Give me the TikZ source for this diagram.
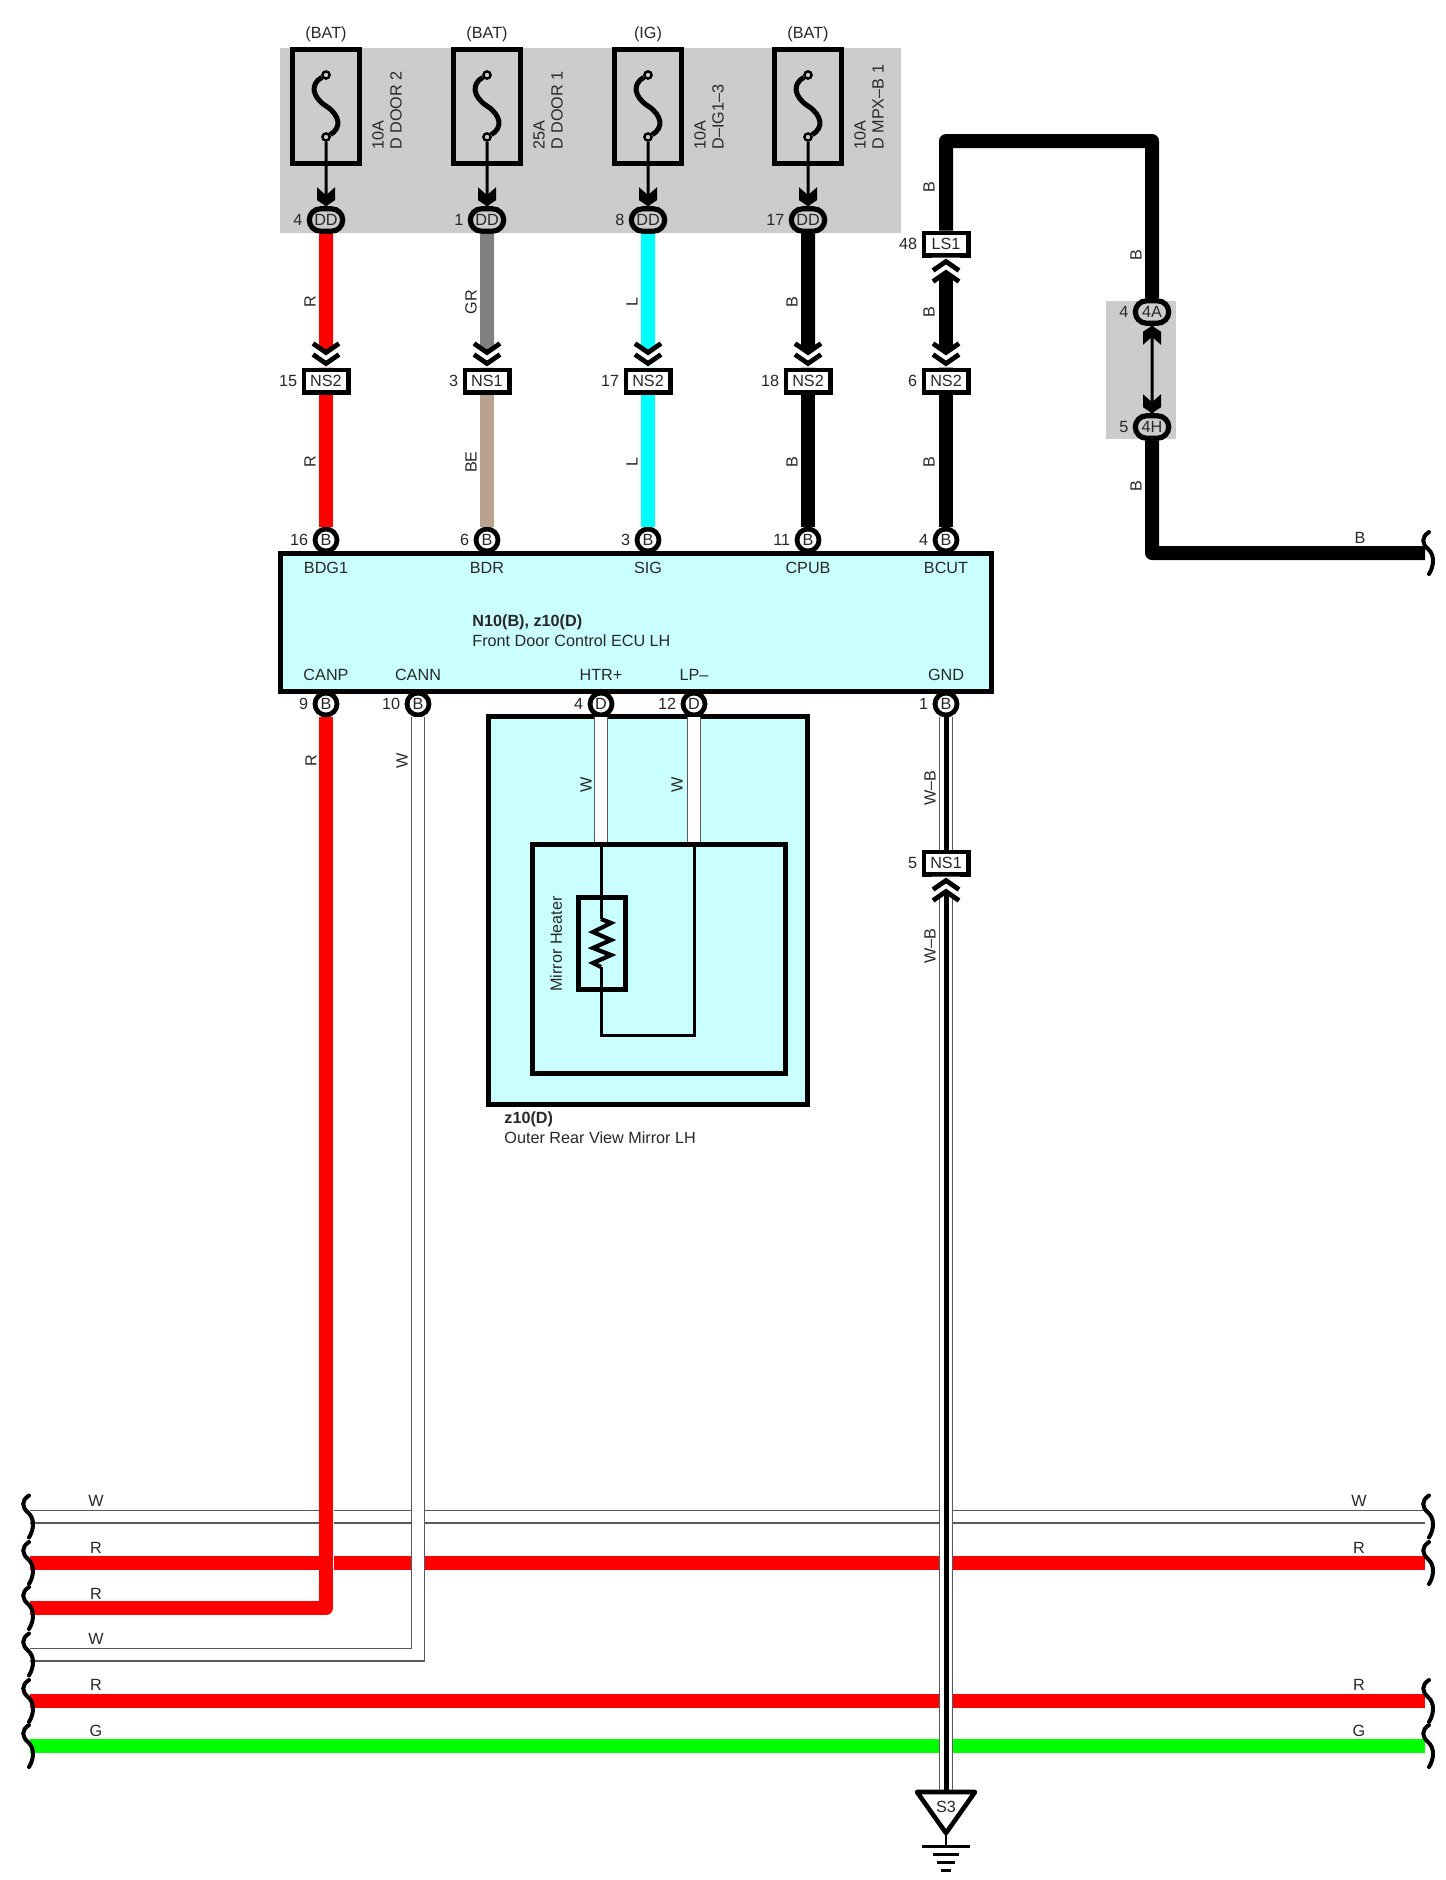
\documentclass[tikz,border=0pt]{standalone}
\usepackage{fontspec}
\setmainfont{Liberation Sans}
\usetikzlibrary{shapes.misc}
\definecolor{wred}{RGB}{255,0,0}
\definecolor{wgray}{RGB}{128,128,128}
\definecolor{wtan}{RGB}{185,163,143}
\definecolor{wcyan}{RGB}{0,255,255}
\definecolor{wgreen}{RGB}{0,255,0}
\definecolor{panel}{RGB}{204,204,204}
\definecolor{ecufill}{RGB}{201,255,255}
\definecolor{ink}{RGB}{40,40,40}
\newcommand\Lbl{\fontsize{8.1}{9}\selectfont}

\begin{document}
\begin{tikzpicture}[x=0.5pt,y=-0.5pt,
every node/.style={font=\Lbl,text=ink,inner sep=0pt},
every label/.style={font=\Lbl,text=ink,inner sep=0pt,xshift=-2pt},
wire/.style={line width=7pt,draw=#1,line join=round},
whitewire/.style={draw=black!65,line width=.7pt,double=white,double distance=5.6pt},
corewire/.style={draw=black,line width=2.5pt},
thinwire/.style={draw=black,line width=1.5pt},
box/.style={rectangle,draw=black,line width=2.5pt},
oval/.style={rounded rectangle,draw=black,line width=2.6pt,fill=panel,
  minimum width=16.7pt,minimum height=11.2pt},
conn/.style={rectangle,draw=black,line width=2.3pt,fill=white,
  minimum width=22.2pt,minimum height=11.2pt},
pinB/.style={circle,draw=black,line width=2.4pt,fill=white,minimum size=11pt},
fusepin/.style={circle,draw=black,line width=1.2pt,fill=panel,minimum size=3.6pt},
wirelabel/.style={rotate=90},
chev/.pic={
  \fill[white] (-14,-24) -- (0,-15) -- (14,-24) -- (14,0) -- (-14,0) -- cycle;
  \draw[line width=2.4pt] (-13,-24) -- (0,-15) -- (13,-24);
  \draw[line width=2.4pt] (-13,-13) -- (0,-4) -- (13,-13);
},
barb/.pic={
  \fill[black] (-9,-19) -- (0,-11) -- (9,-19) -- (9,-6) -- (0,0) -- (-9,-6) -- cycle;
},
wavy/.pic={
  \draw[line width=2pt,line cap=round] (1,-21) .. controls (-7,-16) and (-6,-9) .. (0,-4)
    .. controls (7,2) and (6,13) .. (1,21);
}]

\path[use as bounding box,fill=white] (0,0) rectangle (1446,1880);

% grey panels
\fill[panel] (280,48) rectangle (901,233);
\fill[panel] (1106,301) rectangle (1176,439);

% ecu and mirror
\node (ecu) [box,fill=ecufill,minimum width=355.5pt,minimum height=69pt] at (635.5,622) {};
\node (mirror) [box,fill=ecufill,minimum width=159.5pt,minimum height=194pt] at (647.5,910) {};
\node (heater) [box,minimum width=126.7pt,minimum height=114.5pt] at (659,958.5) {};
\node (res) [box,minimum width=23.5pt,minimum height=46pt] at (601.5,943) {};

\node (ecutxt) [anchor=west,align=left,font=\fontsize{8.1}{10}\selectfont] at (472,631)
  {\textbf{N10(B), z10(D)}\\Front Door Control ECU LH};
\node (mirtxt) [anchor=west,align=left,font=\fontsize{8.1}{10}\selectfont] at (504,1128)
  {\textbf{z10(D)}\\Outer Rear View Mirror LH};
\node (heatxt) [wirelabel] at (556,944) {Mirror Heater};

% fuses, top row
\foreach \n/\x/\src/\amp/\fus/\num in {
  1/326/BAT/10A/D DOOR 2/4,
  2/487/BAT/25A/D DOOR 1/1,
  3/648/IG/10A/D--IG1--3/8,
  4/808/BAT/10A/D MPX--B 1/17}{
  \node (src\n) at (\x,34) {(\src)};
  \node (fuse\n) [box,minimum width=33.5pt,minimum height=57pt] at (\x,106.5) {};
  \node (ft\n) [fusepin] at (\x,75) {};
  \node (fb\n) [fusepin] at (\x,137) {};
  \node (dd\n) [oval,label={left:\num}] at (\x,220) {DD};
  \node (ftx\n) [wirelabel,anchor=west,align=left] at (\x+61,150) {\amp\\\fus};
  \draw[line width=2.5pt] (ft\n) .. controls (\x-16,84) and (\x-14,97) .. (\x,106)
    .. controls (\x+14,115) and (\x+16,128) .. (fb\n);
  \draw[thinwire] (fb\n) -- (dd\n);
  \pic at (dd\n.north) {barb};
}

% columns down to the ecu
\foreach \n/\x/\up/\lo/\ns/\nsn/\tn/\upt/\lot/\pn in {
  1/326/wred/wred/NS2/15/16/R/R/BDG1,
  2/487/wgray/wtan/NS1/3/6/GR/BE/BDR,
  3/648/wcyan/wcyan/NS2/17/3/L/L/SIG,
  4/808/black/black/NS2/18/11/B/B/CPUB}{
  \node (ns\n) [conn,label={left:\nsn}] at (\x,381) {\ns};
  \node (top\n) [pinB,label={left:\tn}] at (\x,540) {B};
  \draw[wire=\up] (dd\n) -- (ns\n);
  \draw[wire=\lo] (ns\n) -- (top\n);
  \pic at (ns\n.north) {chev};
  \node (wu\n) [wirelabel] at (\x-16,302) {\upt};
  \node (wl\n) [wirelabel] at (\x-16,462) {\lot};
  \node (tp\n) at (\x,568) {\pn};
}

% column five and the loop to the right
\node (ls1) [conn,label={left:48}] at (946,244) {LS1};
\node (ns5) [conn,label={left:6}] at (946,381) {NS2};
\node (top5) [pinB,label={left:4}] at (946,540) {B};
\node (tp5) at (946,568) {BCUT};
\node (o4a) [oval,label={left:4}] at (1152,312) {4A};
\node (o4h) [oval,label={left:5}] at (1152,427) {4H};
\coordinate (c1) at (946,141);
\coordinate (c2) at (1152,141);
\coordinate (c3) at (1152,553);
\coordinate (bend) at (1425,553);
\draw[wire=black] (ls1) -- (c1) -- (c2) -- (o4a);
\draw[wire=black] (ls1) -- (ns5);
\draw[wire=black] (ns5) -- (top5);
\draw[wire=black] (o4h) -- (c3) -- (bend);
\draw[thinwire] (o4a) -- (o4h);
\pic at (ns5.north) {chev};
\pic[yscale=-1] at (ls1.south) {chev};
\pic[yscale=-1] at (o4a.south) {barb};
\pic at (o4h.north) {barb};
\pic at (1428,553) {wavy};
\foreach \n/\x/\y in {a/929/187,b/929/312,c/929/462,d/1136/255,e/1136/486}{
  \node (lb\n) [wirelabel] at (\x,\y) {B};
}
\node (lbr) at (1360,538) {B};

% bus wires
\coordinate (w1l) at (30,1516.5);
\coordinate (w1r) at (1425,1516.5);
\coordinate (r1l) at (30,1563);
\coordinate (r1r) at (1425,1563);
\coordinate (r2l) at (30,1608);
\coordinate (w2l) at (30,1654.5);
\coordinate (r3l) at (30,1701);
\coordinate (r3r) at (1425,1701);
\coordinate (g1l) at (30,1746);
\coordinate (g1r) at (1425,1746);
\draw[whitewire] (w1l) -- (w1r);
\draw[wire=wred] (r1l) -- (r1r);
\draw[wire=wred] (r3l) -- (r3r);
\draw[wire=wgreen] (g1l) -- (g1r);

% lower connectors of the ecu
\node (canp) [pinB,label={left:9}] at (326,704) {B};
\node (cann) [pinB,label={left:10}] at (418,704) {B};
\node (htr) [pinB,label={left:4}] at (601,704) {D};
\node (lpm) [pinB,label={left:12}] at (694,704) {D};
\node (gnd) [pinB,label={left:1}] at (946,704) {B};
\foreach \nm/\x/\t in {canpt/326/CANP,cannt/418/CANN,htrt/601/HTR+,lpmt/694/LP--,gndt/946/GND}{
  \node (\nm) at (\x,675) {\t};
}

\draw[white,line width=7pt,transform canvas={xshift=.5pt}] (canp) |- (r2l);
\draw[wire=wred] (canp) |- (r2l);
\draw[whitewire] (cann) |- (w2l);

\draw[whitewire] (htr) -- (htr |- heater.north);
\draw[whitewire] (lpm) -- (lpm |- heater.north);
\coordinate (lp1) at (601,1035);
\coordinate (lp2) at (694,1035);
\draw[thinwire] (htr |- heater.north) -- (601,919);
\draw[line width=2.1pt] (601,919) -- (611,923) -- (593,932) -- (611,940) -- (593,948)
  -- (611,955) -- (593,963) -- (601,967);
\draw[thinwire] (601,967) -- (lp1) -- (lp2) -- (lpm |- heater.north);

% ground wire
\node (ns6) [conn,label={left:5}] at (946,863) {NS1};
\coordinate (gtop) at (946,1792);
\draw[whitewire] (gnd) -- (ns6);
\draw[corewire] (gnd) -- (ns6);
\draw[whitewire] (ns6) -- (gtop);
\draw[corewire] (ns6) -- (gtop);
\pic[yscale=-1] at (ns6.south) {chev};
\draw[line width=2.3pt,fill=white,line join=round] (917,1792) -- (975,1792) -- (946,1833) -- cycle;
\node (s3) at (946,1807) {S3};
\draw[line width=1.3pt] (946,1833) -- (946,1846);
\draw[line width=1.5pt] (922,1846) -- (970,1846);
\draw[line width=1.5pt] (933,1854) -- (959,1854);
\draw[line width=1.5pt] (937,1862) -- (955,1862);
\draw[line width=1.5pt] (941,1870) -- (951,1870);

% wire labels
\foreach \n/\x/\y/\t in {a/311/761/R,b/402/761/W,c/586/785/W,d/677/785/W,e/930/788/W--B,f/930/946/W--B}{
  \node (vl\n) [wirelabel] at (\x,\y) {\t};
}
\foreach \n/\y/\t in {a/1501/W,b/1548/R,c/1594/R,d/1639/W,e/1685/R,f/1731/G}{
  \node (hl\n) at (96,\y) {\t};
}
\foreach \n/\y/\t in {a/1501/W,b/1548/R,c/1685/R,d/1731/G}{
  \node (hr\n) at (1359,\y) {\t};
}

% wavy ends
\foreach \y in {1516.5,1563,1608,1654.5,1701,1746}{
  \pic at (28,\y) {wavy};
}
\foreach \y in {1516.5,1563,1701,1746}{
  \pic at (1428,\y) {wavy};
}
\end{tikzpicture}
\end{document}
